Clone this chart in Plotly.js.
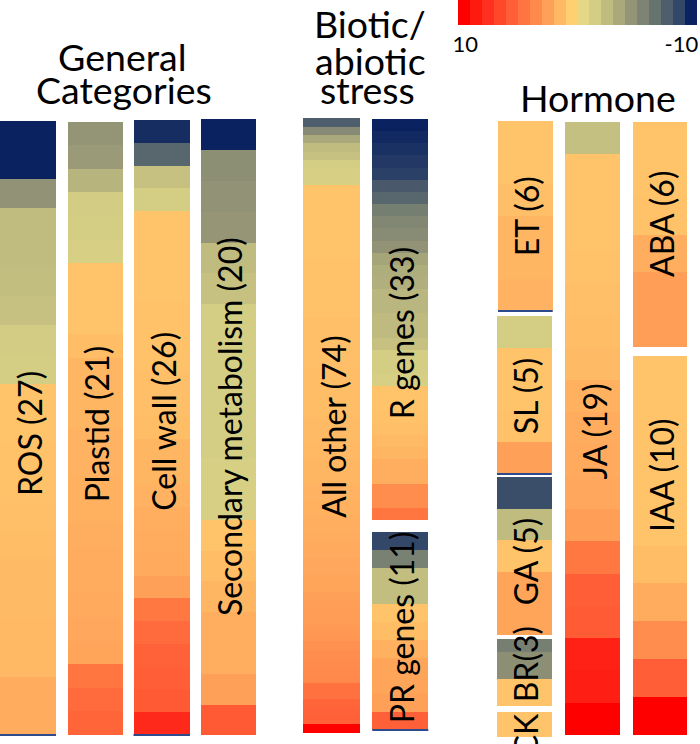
<!DOCTYPE html>
<html><head><meta charset="utf-8">
<script src="https://cdn.plot.ly/plotly-3.0.1.min.js"></script>
<style>html,body{margin:0;padding:0;background:#fff}#chart{width:700px;height:744px}</style>
</head><body><div id="chart"></div>
<script>
// ---------------- data (scores, 10 = red ... -10 = navy) ----------------
const rosValues = [-9.9,-9.9,-4.6,-2.5,-2.5,-2.4,-2.2,-1.6,-1.5,1.0,1.0,1.1,1.1,1.2,1.3,1.4,1.4,1.5,1.5,2.0,2.0];
const plastidValues = [-4.5,-4.2,-2.9,-1.6,-1.5,-1.4,1.0,1.0,1.0,1.3,1.6,1.6,1.6,1.7,1.7,1.8,1.8,1.9,2.0,2.0,2.1,2.2,2.3,4.4,4.9,5.2];
const cellWallValues = [-9.2,-7.1,-2.2,-1.5,1.0,1.0,1.0,1.0,1.1,1.1,1.1,1.2,1.2,1.3,1.6,1.6,1.7,1.9,2.0,2.1,2.5,4.3,4.9,5.3,5.5,5.7,7.8];
const secondaryValues = [-9.9,-4.8,-4.6,-4.4,-2.5,-2.2,-1.5,-1.5,-1.5,-1.5,-1.5,-1.4,-1.4,1.0,1.3,1.6,1.9,1.9,2.5,5.7];
const allOtherValues = [-7.5,-5.1,-3.5,-2.5,-2.2,-1.5,-1.4,-1.4,
  1.0,1.0,1.0,1.0,1.0,1.0,1.0,1.0,1.0,1.1,1.1,1.1,1.1,1.1,1.1,1.1,1.2,1.2,
  1.2,1.2,1.2,1.2,1.3,1.3,1.3,1.3,1.3,1.3,1.4,1.4,1.4,
  1.5,1.5,1.6,1.6,1.6,1.7,1.7,1.8,1.8,1.9,1.9,
  2.0,2.1,2.1,2.2,2.2,2.3,2.3,
  2.5,2.6,2.7,2.7,2.8,2.9,
  3.2,3.3,3.4,3.5,3.6,
  4.6,4.6,5.2,5.3,5.4,9.7];
const rGenesValues = [-9.9,-9.3,-9.1,-8.9,-8.7,-7.7,-7.1,-5.9,-5.3,-5.0,-4.6,-3.7,-3.3,-3.2,-2.8,-2.8,-2.6,-2.6,-2.2,-1.5,-1.5,-1.4,1.0,1.0,1.1,1.2,1.4,1.6,1.9,1.9,3.3,3.3,4.4];
const prGenesValues = [-8.5,-5.7,-2.4,-2.4,1.0,1.3,1.8,2.3,2.3,2.5,5.4];
const etValues = [1.0,1.05,1.2,1.6,1.6,1.7];
const slValues = [-1.5,1.0,1.0,1.1,2.5];
const gaValues = [-8.2,-2.5,1.0,2.3,2.3];
const brValues = [-5.8,-4.8,-4.8,1.0,1.0];
const ckValues = [1.0];
const jaValues = [-2.3,1.0,1.0,1.05,1.1,1.2,1.3,1.4,1.8,2.0,2.1,2.2,2.6,4.3,5.5,5.6,8.2,8.3,9.6];
const abaValues = [1.0,1.0,1.1,1.9,2.6,2.6];
const iaaValues = [1.0,1.0,1.0,1.0,1.0,1.3,2.0,3.3,5.5,9.6];

const columnLabels = ['ROS (27)','Plastid (21)','Cell wall (26)','Secondary metabolism (20)','All other (74)','R genes (33)','PR genes (11)','ET (6)','SL (5)','GA (5)','BR(3)','CK','JA (19)','ABA (6)','IAA (10)'];
const groupTitles = [['General','Categories'],['Biotic/','abiotic','stress'],['Hormone']];
const colorbarTickText = ['10','-10'];
// colour palette of the legend, from +10 (left) to -10 (right)
const palette = ['#ff0000','#ff1a10','#ff3020','#ff482a','#ff5e36','#ff7440','#ff8a4c','#ffa058','#ffb864','#ffd070',
                 '#e4d886','#d4ce84','#c0bc80','#aaa97b','#949476','#7e8473','#66746f','#4e5e6c','#334768','#0a2260'];

// ---------------- layout (pixel-space geometry) ----------------
const seriesList = [rosValues,plastidValues,cellWallValues,secondaryValues,allOtherValues,rGenesValues,prGenesValues,etValues,slValues,gaValues,brValues,ckValues,jaValues,abaValues,iaaValues];
const geom = [
  {x0:0,     x1:56,    y0:120.7, y1:735,   ly:434, edge:true},
  {x0:67.5,  x1:123,   y0:121.7, y1:735,   ly:424},
  {x0:133.5, x1:190,   y0:120,   y1:735,   ly:421, edge:true},
  {x0:200.7, x1:255.5, y0:119.3, y1:735.3, ly:427},
  {x0:303.3, x1:360,   y0:118.3, y1:732.7, ly:427},
  {x0:372.3, x1:428.3, y0:119,   y1:520,   ly:333},
  {x0:372.3, x1:428.3, y0:532.3, y1:730,   ly:627, edge:true},
  {x0:498,   x1:552.7, y0:121,   y1:311,   ly:216, edge:true},
  {x0:497,   x1:551.7, y0:316,   y1:474,   ly:396, edge:true},
  {x0:497,   x1:551.7, y0:477.3, y1:635,   ly:561},
  {x0:497,   x1:551.7, y0:639,   y1:705.7, ly:664},
  {x0:497,   x1:551.7, y0:711.7, y1:737,   ly:735},
  {x0:565,   x1:620,   y0:121.7, y1:735,   ly:432},
  {x0:632.7, x1:687.3, y0:121.7, y1:347.3, ly:224},
  {x0:632.7, x1:687.3, y0:356,   y1:735,   ly:475}
];
const titleGeom = [
  [{x:122.5,y:56},{x:123.5,y:89.7}],
  [{x:370,y:23},{x:370,y:60},{x:367,y:89.7}],
  [{x:598.3,y:97.3}]
];

// continuous scale for cells: bin centres of the palette
const cellScale = [[0, palette[palette.length-1]]];
for (let i = palette.length - 1; i >= 0; i--) {
  const v = 9.5 - i;
  cellScale.push([(v + 10) / 20, palette[i]]);
}
cellScale.push([1, palette[0]]);
// stepped scale for the legend (reversed value axis: +10 on the left)
const stepScale = [];
palette.forEach((c, i) => { stepScale.push([i / palette.length, c]); stepScale.push([(i + 1) / palette.length, c]); });

const FONT = 'Lato, "Open Sans", sans-serif';
const traces = [];
const annotations = [];
const shapes = [];
seriesList.forEach((vals, j) => {
  const g = geom[j];
  const n = vals.length;
  const h = (g.y1 - g.y0) / n;
  const xc = (g.x0 + g.x1) / 2;
  traces.push({
    type: 'bar', orientation: 'v',
    x: vals.map(() => xc),
    y: vals.map(() => h),
    base: vals.map((_, i) => g.y0 + i * h),
    width: g.x1 - g.x0,
    marker: {color: vals, colorscale: cellScale, cmin: -10, cmax: 10, line: {width: 0}},
    showlegend: false, hoverinfo: 'skip'
  });
  annotations.push({
    xref: 'x', yref: 'y', x: xc + 1, y: g.ly, text: columnLabels[j], textangle: -90,
    showarrow: false, font: {family: FONT, size: 32, color: '#000'}
  });
  if (g.edge) {
    shapes.push({type: 'line', xref: 'x', yref: 'y', x0: g.x0, x1: g.x1, y0: g.y1, y1: g.y1,
      line: {color: '#2c4a8c', width: 2}});
  }
});
groupTitles.forEach((lines, gi) => {
  lines.forEach((t, li) => {
    const p = titleGeom[gi][li];
    annotations.push({xref: 'x', yref: 'y', x: p.x, y: p.y, text: t, showarrow: false,
      font: {family: FONT, size: 37.5, color: '#000'}});
  });
});

// legend colour bar
traces.push({
  type: 'scatter', mode: 'markers', x: [null], y: [null], showlegend: false, hoverinfo: 'skip',
  marker: {
    color: [0], cmin: -10, cmax: 10, colorscale: stepScale, showscale: true,
    colorbar: {
      orientation: 'h', x: 458 / 700, xanchor: 'left', y: 1, yanchor: 'top',
      len: 239, lenmode: 'pixels', thickness: 25, thicknessmode: 'pixels',
      xpad: 0, ypad: 0, outlinewidth: 0, ticks: '',
      tickmode: 'array', tickvals: [-9.4, 8.7], ticktext: colorbarTickText,
      tickfont: {family: FONT, size: 22, color: '#000'}
    }
  }
});

const layout = {
  width: 700, height: 744,
  margin: {l: 0, r: 0, t: 0, b: 0, pad: 0},
  paper_bgcolor: '#fff', plot_bgcolor: '#fff',
  barmode: 'overlay', bargap: 0,
  xaxis: {range: [0, 700], visible: false, fixedrange: true},
  yaxis: {range: [744, 0], visible: false, fixedrange: true},
  annotations: annotations, shapes: shapes, showlegend: false
};
Plotly.newPlot('chart', traces, layout, {staticPlot: true, displayModeBar: false});
</script>
</body></html>
